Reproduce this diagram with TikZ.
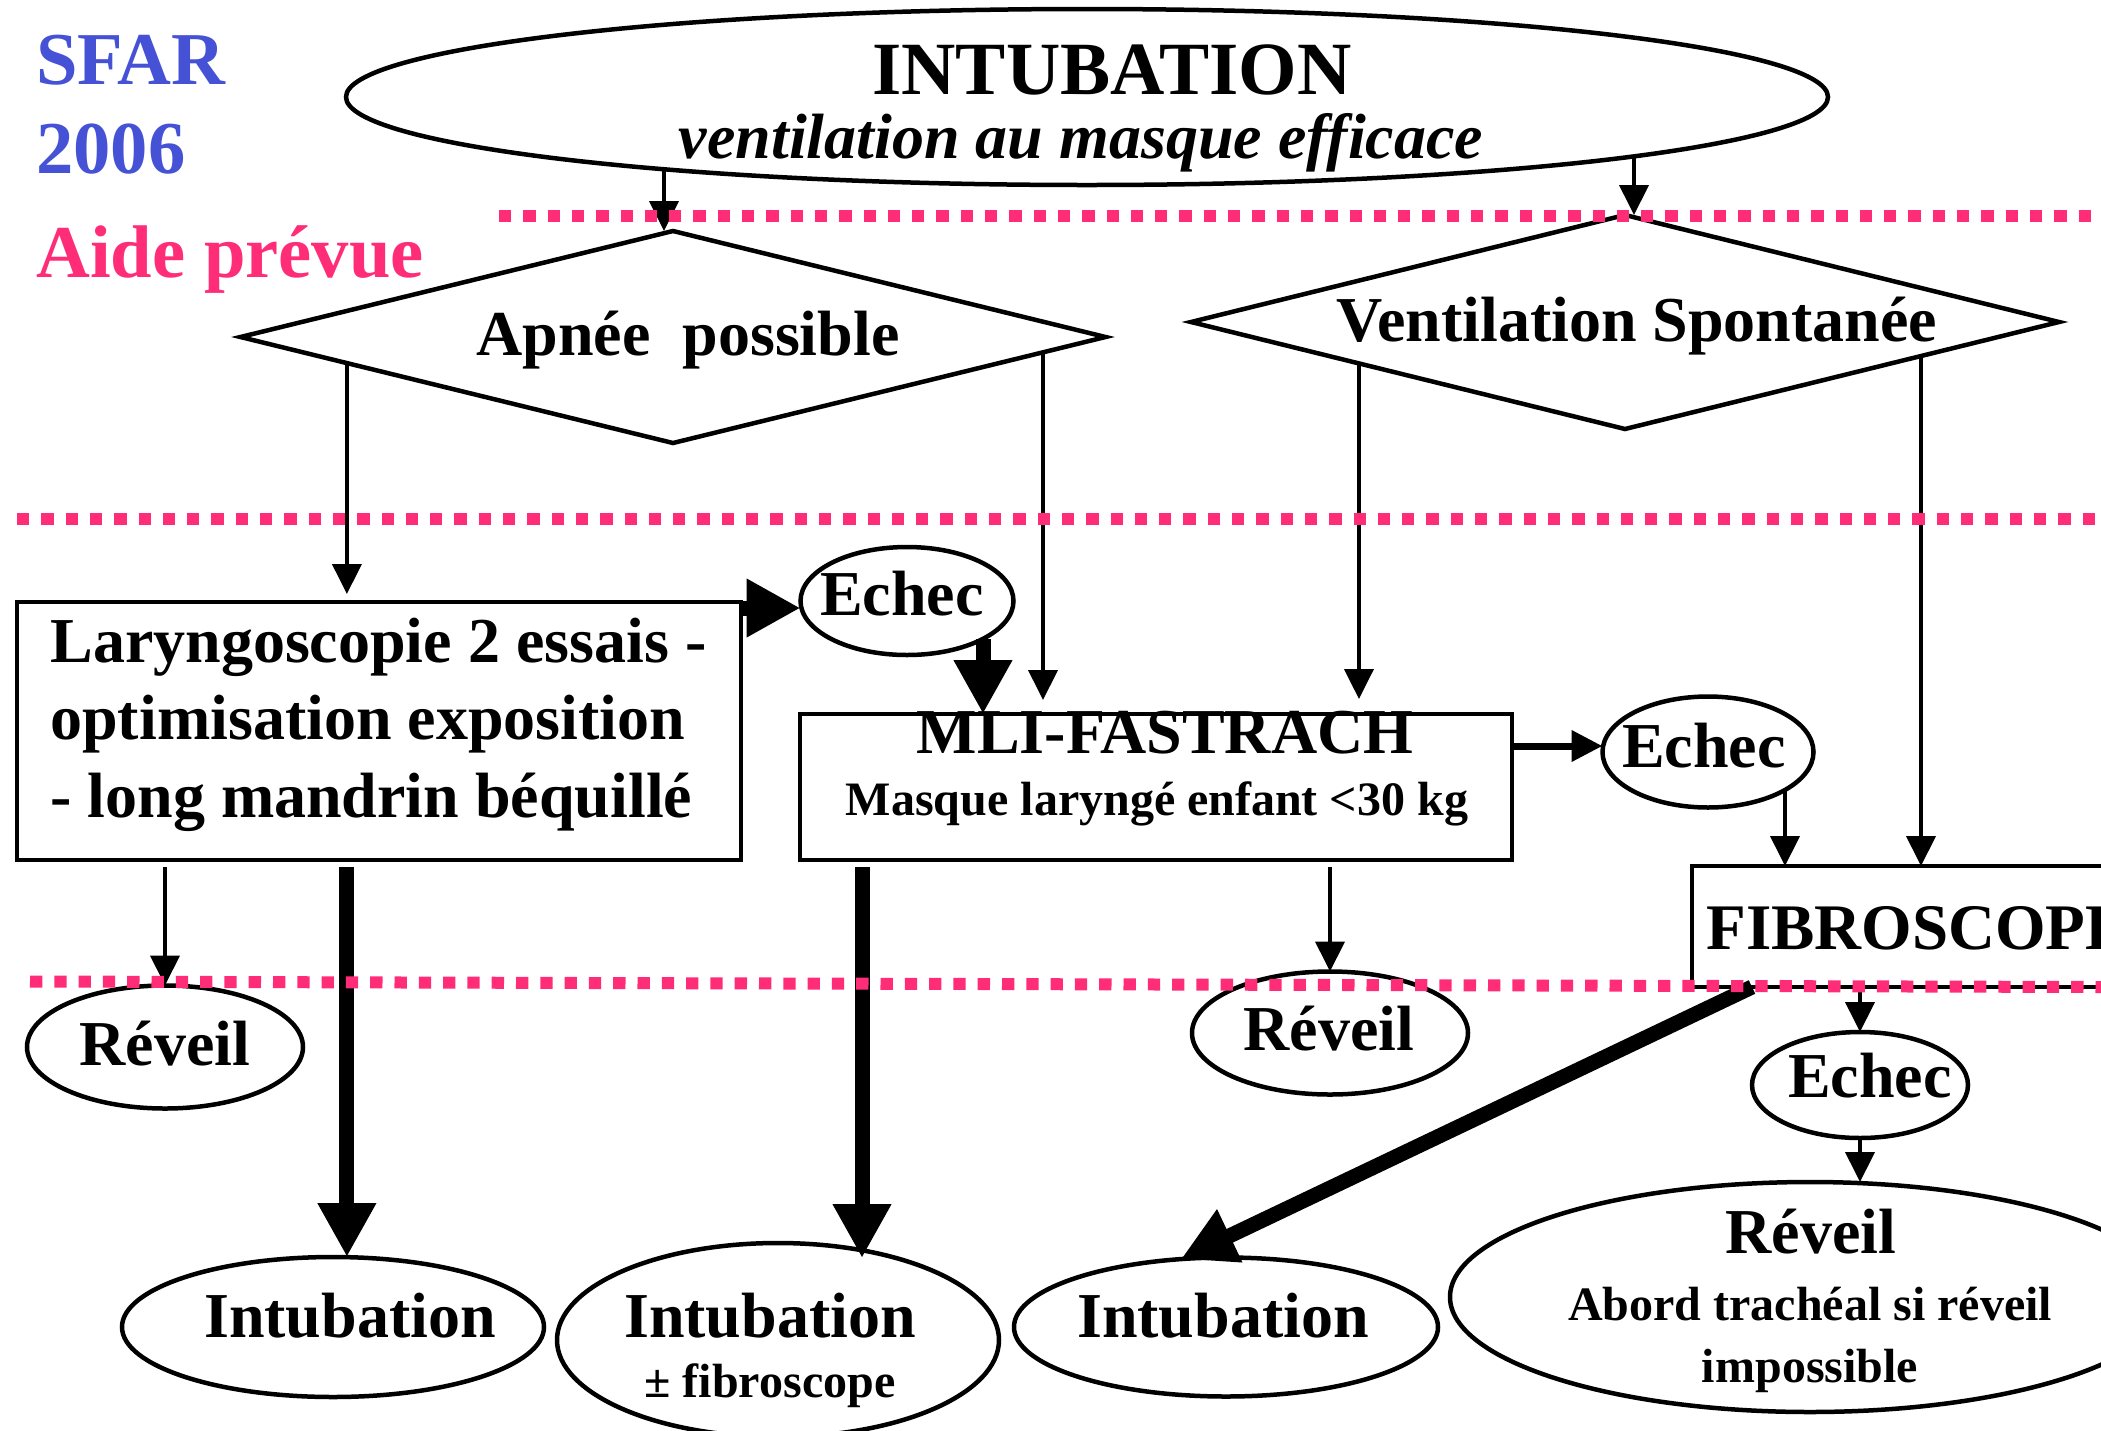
\documentclass[tikz,border=0pt]{standalone}
\usepackage{fontspec}
\setmainfont{Liberation Serif}
\usetikzlibrary{shapes.geometric, arrows.meta, calc}
\definecolor{sfarblue}{RGB}{70,82,214}
\definecolor{aidepink}{RGB}{255,45,120}
\begin{document}
\begin{tikzpicture}[x=0.5pt, y=-0.5pt,
  shp/.style={draw, line width=2.25pt, inner sep=0pt, outer sep=0pt},
  ell/.style={shp, ellipse},
  boxn/.style={shp, rectangle},
  dia/.style={shp, diamond},
  lbl/.style={inner sep=0pt, anchor=base, font=\bfseries\fontsize{32pt}{38pt}\selectfont},
  small/.style={lbl, font=\bfseries\fontsize{24pt}{28pt}\selectfont},
  head/.style={inner sep=0pt, anchor=base west, font=\bfseries\fontsize{37.3pt}{44pt}\selectfont},
  thinarrow/.style={line width=2pt, -{Triangle[length=15pt,width=14.5pt]}},
  thickarrow/.style={line width=7.5pt, -{Triangle[length=27pt,width=27.5pt]}},
  midarrow/.style={line width=3.5pt, -{Triangle[length=15.5pt,width=15pt]}},
  sep/.style={draw=aidepink, line width=6pt, dash pattern=on 6.15pt off 6pt}
]
\useasboundingbox (0,0) rectangle (2101,1431);
\fill[white] (0,0) rectangle (2101,1431);
\clip (0,0) rectangle (2101,1431);

% shapes
\node[ell, minimum width=741pt, minimum height=88pt] (top) at (1087,97) {};
\node[dia, minimum width=432.5pt, minimum height=106pt] (apnee) at (673,337) {};
\node[dia, minimum width=434pt, minimum height=107pt] (vent) at (1625,322) {};
\node[boxn, minimum width=362pt, minimum height=129pt] (lar) at (379,731) {};
\node[ell, minimum width=106.5pt, minimum height=54pt] (echA) at (907,601) {};
\node[boxn, minimum width=356pt, minimum height=73pt] (mli) at (1156,787) {};
\node[ell, minimum width=105.5pt, minimum height=55.5pt] (echB) at (1708,752) {};
\node[boxn, minimum width=234pt, minimum height=60.5pt] (fib) at (1926,926.5) {};
\node[ell, minimum width=138pt, minimum height=61.5pt] (revA) at (165,1047) {};
\node[ell, minimum width=211pt, minimum height=70pt] (intA) at (333,1327) {};
\node[ell, minimum width=221pt, minimum height=97pt] (intB) at (778,1340) {};
\node[ell, minimum width=138pt, minimum height=61.5pt] (revB) at (1330,1033) {};
\node[ell, minimum width=212pt, minimum height=69.5pt] (intC) at (1226,1327) {};
\node[ell, minimum width=108pt, minimum height=53pt] (echC) at (1860,1085) {};
\node[ell, minimum width=360pt, minimum height=115pt] (revC) at (1810,1297) {};

% texts
\node[head, text=sfarblue] (sfar) at (36,84) {SFAR};
\node[head, text=sfarblue] (year) at (36,173) {2006};
\node[head, text=aidepink] (aide) at (36,277) {Aide prévue};
\node[lbl, font=\bfseries\fontsize{37.6pt}{44pt}\selectfont] (intubT) at (1112,94) {INTUBATION};
\node[lbl, font=\bfseries\itshape\fontsize{32pt}{38pt}\selectfont] (ventT) at (1081,158) {ventilation au masque efficace};
\node[lbl] (apneeT) at (688,355) {Apnée~~possible};
\node[lbl] (ventsT) at (1637,341) {Ventilation Spontanée};
\node[lbl, anchor=base west] (lar1) at (50,662) {Laryngoscopie 2 essais -};
\node[lbl, anchor=base west] (lar2) at (50,739) {optimisation exposition};
\node[lbl, anchor=base west] (lar3) at (50,817) {- long mandrin béquillé};
\node[lbl] (echAT) at (902,615) {Echec};
\node[lbl] (mliT) at (1165,753) {MLI-FASTRACH};
\node[small] (mliS) at (1157,815) {Masque laryngé enfant <30 kg};
\node[lbl] (echBT) at (1704,767) {Echec};
\node[lbl, anchor=base west, font=\bfseries\fontsize{32.5pt}{38pt}\selectfont] (fibT) at (1706,949) {FIBROSCOPE};
\node[lbl] (revAT) at (165,1065) {Réveil};
\node[lbl] (intAT) at (350,1337) {Intubation};
\node[lbl] (intBT) at (770,1337) {Intubation};
\node[small] (intBS) at (770,1397) {± fibroscope};
\node[lbl] (revBT) at (1329,1050) {Réveil};
\node[lbl] (intCT) at (1223,1337) {Intubation};
\node[lbl] (echCT) at (1870,1097) {Echec};
\node[lbl] (revCT) at (1811,1253) {Réveil};
\node[small] (revCS1) at (1810,1320) {Abord trachéal si réveil};
\node[small] (revCS2) at (1810,1382) {impossible};

% helper points on borders
\coordinate (t1) at ($(top.center)+(-423,72)$);
\coordinate (t2) at ($(top.center)+(547,59)$);
\coordinate (p3) at ($(apnee.west)!0.246!(apnee.south)$);
\coordinate (p4) at ($(apnee.east)!0.1445!(apnee.south)$);
\coordinate (p5) at ($(vent.west)!0.387!(vent.south)$);
\coordinate (p6) at ($(vent.east)!0.318!(vent.south)$);
\coordinate (eA) at ([yshift=-3.5pt]echA.west);
\coordinate (eA2) at ($(echA.center)+(76,38)$);
\coordinate (eB) at ([yshift=3pt]echB.west);
\coordinate (eB2) at ($(echB.center)+(77,38)$);
\coordinate (m1) at ([xshift=31pt]mli.south west);
\coordinate (iB) at ($(intB.center)+(84,-82)$);
\coordinate (f1) at ([xshift=30pt]fib.south west);
\coordinate (iC) at ($(intC.center)+(-45,-68)$);

% connectors
\draw[thinarrow] (t1) -- (t1 |- apnee.north);
\draw[thinarrow] (t2) -- (t2 |- vent.north);
\draw[thinarrow, shorten >=4pt] (p3) -- (p3 |- lar.north);
\draw[thinarrow, shorten >=7pt] (p4) -- (p4 |- mli.north);
\draw[thinarrow, shorten >=7.5pt] (p5) -- (p5 |- mli.north);
\draw[thinarrow] (p6) -- (p6 |- fib.north);
\draw[thickarrow] (eA -| lar.east) -- (eA);
\draw[thickarrow] (eA2) -- (eA2 |- mli.north);
\draw[midarrow] (eB -| mli.east) -- (eB);
\draw[thinarrow] (eB2) -- (eB2 |- fib.north);
\draw[thinarrow, shorten <=3.5pt] (revA.north |- lar.south) -- (revA.north);
\draw[thickarrow, shorten <=3.5pt] (p3 |- lar.south) -- (p3 |- intA.north);
\draw[thickarrow, shorten <=3.5pt] (m1) -- (m1 |- iB);
\draw[thinarrow, shorten <=3.5pt] (revB.north |- mli.south) -- (revB.north);
\draw[thickarrow] (f1) -- (iC);
\draw[thinarrow] (echC.north |- fib.south) -- (echC.north);
\draw[thinarrow] (echC.south) -- (echC.south |- revC.north);

% separators
\draw[sep] (499,216) -- (2101,216);
\draw[sep] (17,519) -- (2101,519);
\draw[sep] (30,981.5) -- (2101,987);
\end{tikzpicture}
\end{document}
